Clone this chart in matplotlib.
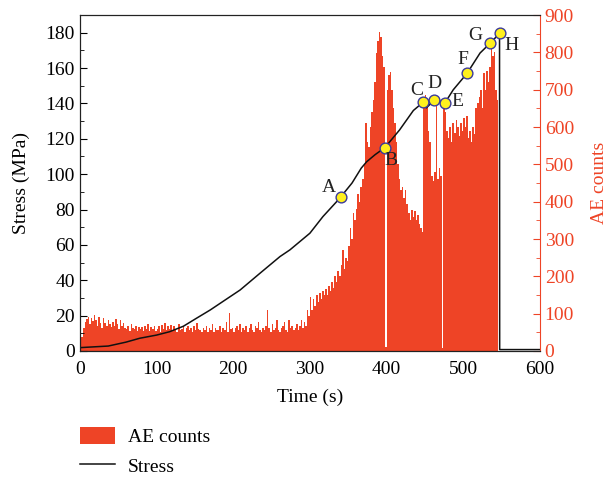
import matplotlib
matplotlib.use("Agg")
import matplotlib.pyplot as plt
from matplotlib.ticker import MultipleLocator
from matplotlib.patches import Patch
from matplotlib.lines import Line2D

plt.rcParams["font.family"] = ["Liberation Serif", "DejaVu Serif"]

RED = "#ee4426"
FS = 14

# AE counts in 2 s bins starting at t = 0 s
AE_START = 0
AE_STEP = 2
AE_COUNTS = [
    20, 38, 62, 78, 85, 92, 72, 88, 80, 96,
    82, 68, 92, 74, 62, 88, 76, 66, 84, 72,
    64, 78, 66, 86, 72, 60, 82, 66, 74, 62,
    58, 68, 54, 72, 62, 58, 68, 54, 64, 58,
    64, 54, 68, 58, 72, 54, 64, 58, 68, 54,
    60, 66, 50, 70, 60, 75, 55, 66, 60, 70,
    56, 66, 60, 52, 72, 56, 60, 66, 52, 62,
    66, 56, 62, 52, 68, 56, 76, 60, 56, 52,
    62, 56, 68, 52, 62, 56, 72, 52, 62, 56,
    56, 68, 52, 62, 56, 78, 52, 102, 58, 62,
    52, 62, 68, 56, 72, 52, 62, 56, 68, 52,
    62, 72, 56, 52, 68, 62, 78, 56, 52, 62,
    56, 68, 110, 62, 52, 72, 56, 62, 82, 56,
    52, 62, 68, 78, 56, 52, 82, 62, 68, 56,
    62, 72, 56, 68, 82, 62, 78, 68, 110, 95,
    145, 110, 140, 120, 150, 130, 155, 140, 160, 150,
    165, 150, 175, 160, 185, 170, 200, 185, 215, 200,
    230, 270, 220, 250, 240, 280, 330, 300, 370, 350,
    380, 420, 400, 440, 460, 500, 610, 560, 547, 600,
    640, 672, 720, 798, 830, 855, 840, 790, 762, 10,
    700, 740, 748, 700, 650, 610, 560, 500, 460, 430,
    440, 410, 430, 395, 370, 350, 378, 360, 375, 350,
    365, 340, 330, 320, 675, 685, 660, 590, 560, 470,
    455, 480, 682, 460, 490, 470, 8, 664, 640, 590,
    570, 600, 560, 610, 585, 620, 600, 575, 610, 590,
    625, 600, 630, 570, 590, 560, 600, 580, 650, 665,
    680, 700, 650, 745, 700, 750, 720, 760, 820, 790,
    800, 700, 672,
]
AE_TIME = [AE_START + AE_STEP * i for i in range(len(AE_COUNTS))]

# stress curve (s, MPa)
STRESS_TIME = [0, 37, 60, 78, 100, 117, 135, 152, 170, 190, 209, 235, 261,
               274, 300, 317, 335, 340.4, 355, 367, 374, 385, 397.8, 417,
               435, 447.8, 452, 462.5, 476.5, 487, 505, 522, 535, 547.4,
               547.6, 600]
STRESS = [1.9, 2.8, 5.0, 7.2, 9.0, 10.9, 14.0, 18.5, 23.2, 29.0, 34.5, 44.0,
          53.4, 57.2, 66.6, 76.0, 84.5, 87.2, 95.0, 103.4, 107.0, 111.0, 115.0,
          125.0, 136.0, 140.7, 137.5, 142.0, 140.5, 147.7, 157.0, 168.5, 174.0,
          179.6, 0.8, 0.8]

# marked points A-H
POINT_LABELS = ["A", "B", "C", "D", "E", "F", "G", "H"]
POINT_TIME = [340.4, 397.8, 447.8, 462.5, 476.5, 505.2, 535.2, 547.4]
POINT_STRESS = [87.2, 115.0, 140.7, 142.0, 140.5, 157.1, 174.1, 179.6]
LABEL_TIME = [325, 406, 439, 463, 493, 500, 516, 563]
LABEL_STRESS = [92.5, 108, 147.3, 151, 141, 164.7, 178.5, 172.5]

fig = plt.figure(figsize=(6.1, 4.78), dpi=100)
ax = fig.add_axes([0.131, 0.2657, 0.754, 0.7029])
ax2 = ax.twinx()
ax.set_zorder(ax2.get_zorder() + 1)
ax.patch.set_visible(False)

ax2.bar(AE_TIME, AE_COUNTS, width=AE_STEP, align="edge", color=RED,
        linewidth=0)
ax.plot(STRESS_TIME, STRESS, color="#111111", lw=1.1)
ax.scatter(POINT_TIME, POINT_STRESS, s=60, color="#fff01e",
           edgecolor="#3b3b9a", linewidth=1.0, zorder=5)
for lab, tx, ty in zip(POINT_LABELS, LABEL_TIME, LABEL_STRESS):
    ax.text(tx, ty, lab, fontsize=FS, ha="center", va="center",
            color="#222222", zorder=6)

ax.set_xlim(0, 600)
ax.set_ylim(0, 190)
ax2.set_ylim(0, 900)
ax.xaxis.set_major_locator(MultipleLocator(100))
ax.yaxis.set_major_locator(MultipleLocator(20))
ax.yaxis.set_minor_locator(MultipleLocator(10))
ax2.yaxis.set_major_locator(MultipleLocator(100))
ax2.yaxis.set_minor_locator(MultipleLocator(50))

ax.tick_params(axis="both", which="both", direction="in", labelsize=FS)
ax.tick_params(axis="y", which="major", length=5)
ax.tick_params(axis="y", which="minor", length=3)
ax.tick_params(axis="x", which="major", length=0, pad=7)
ax2.tick_params(axis="y", which="both", direction="in", colors=RED,
                labelsize=FS)
ax2.tick_params(axis="y", which="major", length=5)
ax2.tick_params(axis="y", which="minor", length=3)

ax.spines["right"].set_visible(False)
ax2.spines["right"].set_color(RED)
for sp in ("left", "top", "bottom"):
    ax.spines[sp].set_color("#222222")

ax.set_xlabel("Time (s)", fontsize=FS, labelpad=8)
ax.set_ylabel("Stress (MPa)", fontsize=FS, labelpad=11)
ax2.set_ylabel("AE counts", fontsize=FS, color=RED, labelpad=12)

handles = [Patch(facecolor=RED, edgecolor="none", label="AE counts"),
           Line2D([], [], color="#111111", lw=1.1, label="Stress")]
fig.legend(handles=handles, loc="upper left",
           bbox_to_anchor=(80 / 610, 1 - 427 / 478),
           bbox_transform=fig.transFigure, frameon=False, fontsize=FS,
           borderpad=0, borderaxespad=0, handlelength=1.8,
           handleheight=0.95, handletextpad=0.67, labelspacing=0.55)

fig.savefig("out.png", dpi=100)
